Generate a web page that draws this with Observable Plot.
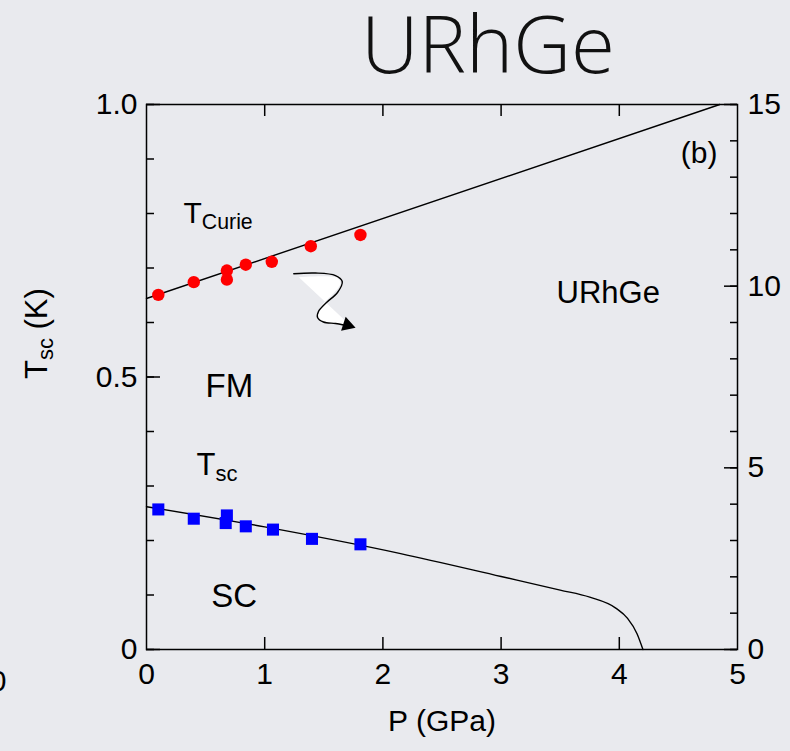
<!DOCTYPE html>
<html><head><meta charset="utf-8">
<script src="https://cdn.jsdelivr.net/npm/d3@7"></script>
<script src="https://cdn.jsdelivr.net/npm/@observablehq/plot@0.6"></script>
<style>
html,body{margin:0;padding:0;background:#e9eaee;overflow:hidden;}
#chart{width:790px;height:751px;}
</style></head><body><div id="chart"></div>
<script>
// ---------- data ----------
// Curie temperature (K, right axis) vs pressure (GPa)
const pCurie = [0.10, 0.40, 0.68, 0.68, 0.84, 1.06, 1.39, 1.81];
const tCurie = [9.76, 10.11, 10.43, 10.18, 10.59, 10.67, 11.10, 11.41];
// Curie guide line (K)
const pCurieLine = [0, 4.85];
const tCurieLine = [9.66, 15];
// Superconducting temperature (K, left axis)
const pSc = [0.10, 0.40, 0.68, 0.67, 0.84, 1.07, 1.40, 1.81];
const tSc = [0.257, 0.240, 0.246, 0.232, 0.226, 0.220, 0.203, 0.193];
// SC guide line
const pScLine = [0, 1.0, 2.15, 3.0, 3.5, 3.75, 3.97, 4.07, 4.15, 4.20];
const tScLine = [0.262, 0.225, 0.176, 0.134, 0.109, 0.096, 0.076, 0.057, 0.029, 0];
// arrow annotation (curve + white wedge), in data units
const pArrow = [1.246, 1.430, 1.599, 1.656, 1.616, 1.523, 1.455, 1.447, 1.497, 1.599, 1.667];
const tArrow = [0.6894, 0.6908, 0.6862, 0.6752, 0.6550, 0.6367, 0.6202, 0.6092, 0.6009, 0.5982, 0.5954];
const pWedge = [1.289, 1.613, 1.641, 1.582, 1.497, 1.455, 1.447, 1.497, 1.599, 1.709];
const tWedge = [0.6831, 0.6820, 0.6716, 0.6532, 0.6349, 0.6202, 0.6092, 0.6009, 0.5982, 0.5976];
const pArrowHead = [1.700];
const tArrowHead = [0.5954];
// ticks
const xTickLabels = [0, 1, 2, 3, 4, 5];
const xInnerTicks = [1, 2, 3, 4];
const yLeftLabels = [0, 0.5, 1.0];
const yLeftMinor = [0, 0.1, 0.2, 0.3, 0.4, 0.5, 0.6, 0.7, 0.8, 0.9, 1.0];
const yRightLabels = [0, 5, 10, 15];
const yRightMinor = [0,1,2,3,4,5,6,7,8,9,10,11,12,13,14,15];
// in-plot labels
const annoText = ["T_{Curie}", "FM", "T_{sc}", "SC", "URhGe", "(b)"];
const annoP = [0.313, 0.499, 0.423, 0.547, 3.469, 4.83];
const annoT = [0.801, 0.483, 0.3387, 0.0965, 0.6536, 0.9108];
const annoSize = [30, 33, 31, 33, 31, 30];
const annoAnchor = ["start", "start", "start", "start", "start", "end"];

// ---------- layout ----------
const Wd = 790, Ht = 751;
const mL = 146, mR = 53, mT = 104, mB = 102;
const FW = Wd - mL - mR, FH = Ht - mT - mB;
const font = "'Liberation Sans', Arial, Helvetica, sans-serif";

const curie = pCurie.map((p, i) => ({p, t: tCurie[i] / 15}));
const curieLine = pCurieLine.map((p, i) => ({p, t: tCurieLine[i] / 15}));
const sc = pSc.map((p, i) => ({p, t: tSc[i]}));
const scLine = pScLine.map((p, i) => ({p, t: tScLine[i]}));
const arrow = pArrow.map((p, i) => ({p, t: tArrow[i]}));
const wedge = pWedge.map((p, i) => ({p, t: tWedge[i]}));
const head = pArrowHead.map((p, i) => ({p, t: tArrowHead[i]}));
const anno = annoText.map((s, i) => ({s, p: annoP[i], t: annoT[i], fs: annoSize[i], a: annoAnchor[i]}));

const tk = {stroke: "black", strokeWidth: 1.5};

const chart = Plot.plot({
  width: Wd, height: Ht,
  marginLeft: mL, marginRight: mR, marginTop: mT, marginBottom: mB,
  style: {background: "transparent", fontFamily: font, color: "black"},
  x: {domain: [0, 5], label: null},
  y: {domain: [0, 1], label: null},
  marks: [
    // arrow annotation
    Plot.line(wedge, {x: "p", y: "t", fill: "white", stroke: "none", curve: "catmull-rom"}),
    Plot.line(arrow, {x: "p", y: "t", stroke: "black", strokeWidth: 1.4, curve: "catmull-rom"}),
    Plot.dot(head, {x: "p", y: "t", symbol: "triangle", r: 5.5, fill: "black", stroke: "none", rotate: 108}),
    // guide lines
    Plot.line(curieLine, {x: "p", y: "t", stroke: "black", strokeWidth: 1.4}),
    Plot.line(scLine, {x: "p", y: "t", stroke: "black", strokeWidth: 1.4, curve: "monotone-x"}),
    // data
    Plot.dot(curie, {x: "p", y: "t", r: 6.2, fill: "#ff0000", stroke: "none"}),
    Plot.dot(sc, {x: "p", y: "t", r: 6.8, symbol: "square", fill: "#0000ff", stroke: "none"}),
    // frame and inward ticks
    Plot.frame({stroke: "black", strokeWidth: 1.5}),
    Plot.ruleY(yLeftMinor, {y: d => d, insetRight: FW - 8, ...tk}),
    Plot.ruleY(yLeftLabels, {y: d => d, insetRight: FW - 14, ...tk}),
    Plot.ruleY(yRightMinor, {y: d => d / 15, insetLeft: FW - 7, ...tk}),
    Plot.ruleY(yRightLabels, {y: d => d / 15, insetLeft: FW - 13, ...tk}),
    Plot.ruleX(xInnerTicks, {x: d => d, insetBottom: FH - 12, ...tk}),
    Plot.ruleX(xInnerTicks, {x: d => d, insetTop: FH - 12, ...tk}),
    // axis labels
    Plot.axisY(yLeftLabels, {anchor: "left", tickSize: 0, tickPadding: 9, fontSize: 30,
      tickFormat: d => d === 0 ? "0" : d.toFixed(1), label: null}),
    Plot.axisY(yRightLabels.map(k => k / 15), {anchor: "right", tickSize: 0, tickPadding: 10, fontSize: 30,
      tickFormat: d => String(Math.round(d * 15)), label: null}),
    Plot.axisX(xTickLabels, {anchor: "bottom", tickSize: 0, tickPadding: 13, fontSize: 30,
      tickFormat: d => String(d), label: null}),
    // in-plot annotations
    Plot.text(anno, {x: "p", y: "t", text: "s", fontSize: d => d.fs, textAnchor: "start",
      filter: d => d.a === "start", fill: "black"}),
    Plot.text(anno, {x: "p", y: "t", text: "s", fontSize: d => d.fs, textAnchor: "end",
      filter: d => d.a === "end", fill: "black"}),
    // axis titles
    Plot.text(["T_{sc} (K)"], {frameAnchor: "left", lineAnchor: "middle", rotate: -90, dx: -109, dy: 2, fontSize: 31, fill: "black"}),
    Plot.text(["P (GPa)"], {frameAnchor: "bottom", lineAnchor: "middle", dy: 72, fontSize: 30, fill: "black"}),
    // stray label cut at the page edge
    Plot.text(["0"], {frameAnchor: "bottom-left", lineAnchor: "middle", dx: 6 - mL, dy: 32, textAnchor: "end", fontSize: 30, fill: "black"}),
    // title
    Plot.text(["URhGe"], {frameAnchor: "top", lineAnchor: "middle", dx: 46, dy: -57, fontSize: 80, fontWeight: 300,
      fontFamily: "'Gill Sans', 'Open Sans', Lato, 'Noto Sans', sans-serif", fill: "#111"})
  ]
});

// subscripts: "X_{sub}" -> tspans
chart.querySelectorAll("text").forEach(t => {
  const txt = t.textContent;
  if (!txt.includes("_{")) return;
  const parts = txt.split(/(_\{[^}]*\})/).filter(s => s.length);
  while (t.firstChild) t.removeChild(t.firstChild);
  let shifted = false;
  const shift = 6;
  parts.forEach(s => {
    const ts = document.createElementNS("http://www.w3.org/2000/svg", "tspan");
    if (s.startsWith("_{")) {
      ts.textContent = s.slice(2, -1);
      ts.setAttribute("font-size", "0.71em");
      ts.setAttribute("dy", shift);
      shifted = true;
    } else {
      ts.textContent = s;
      if (shifted) { ts.setAttribute("dy", -shift); shifted = false; }
    }
    t.appendChild(ts);
  });
});

document.getElementById("chart").appendChild(chart);
</script>
</body></html>
